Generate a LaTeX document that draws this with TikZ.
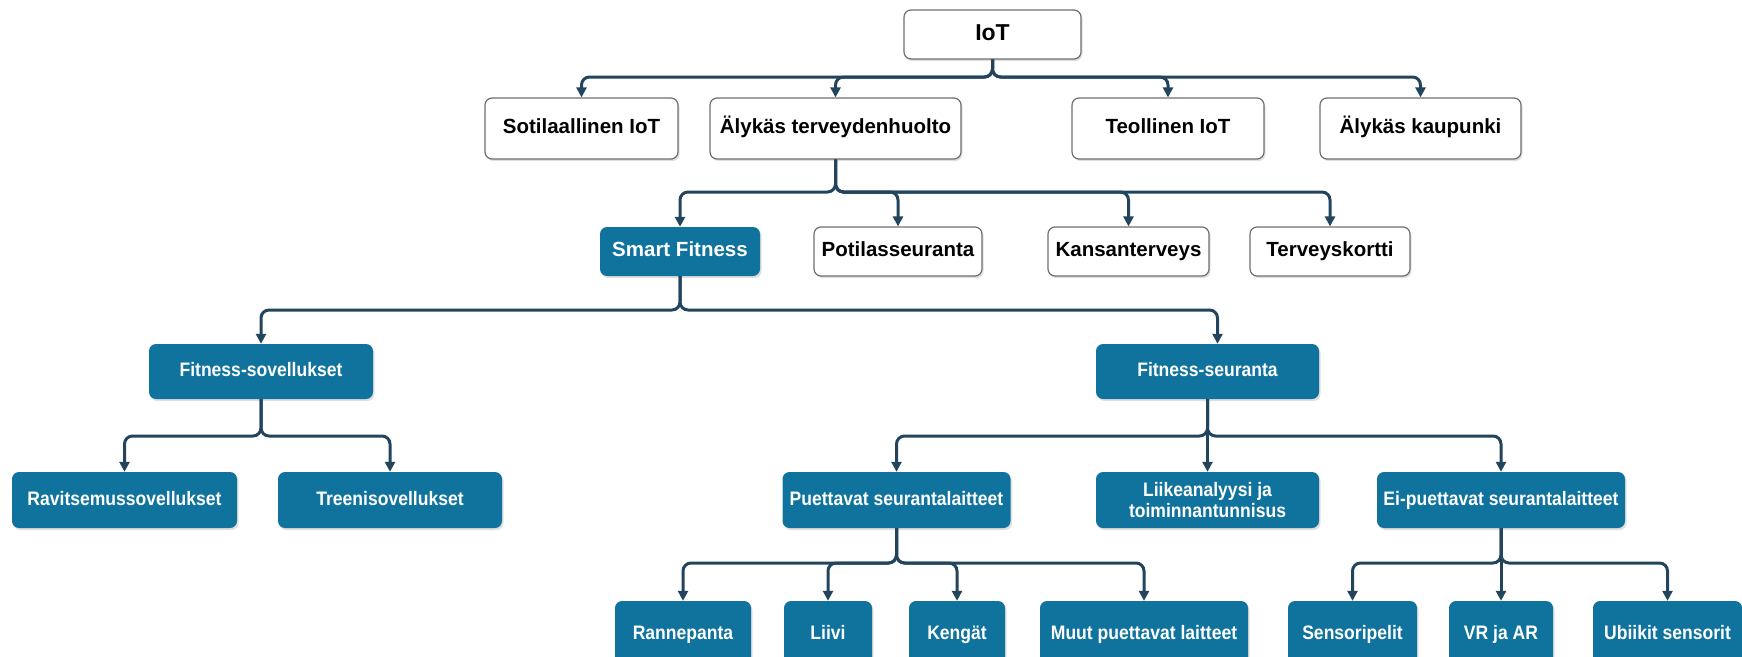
\documentclass[tikz,border=0pt]{standalone}
\usepackage{fontspec}
\setmainfont{Liberation Sans}
\newfontfamily\narrowsans[FakeStretch=0.9]{Liberation Sans}
\usetikzlibrary{arrows.meta,shadows}
\definecolor{fitblue}{HTML}{10739E}
\definecolor{linecol}{HTML}{23445D}
\definecolor{boxgray}{HTML}{6E6E6E}
\begin{document}
\begin{tikzpicture}[x=1pt,y=-1pt,
  base/.style={rectangle, rounded corners=7pt, inner sep=0pt, align=center, anchor=center,
    text height=14.5pt, text depth=4pt},
  sz/.style 2 args={minimum width=#1pt, minimum height=#2pt},
  wbox/.style={base, draw=boxgray, line width=1.2pt, fill=white, text=black,
    font=\fontsize{20.5}{24}\selectfont\bfseries,
    drop shadow={shadow xshift=1.5pt, shadow yshift=-2pt, opacity=0.25}},
  bbox/.style={base, fill=fitblue, text=white,
    font=\narrowsans\fontsize{19.5}{21}\selectfont\bfseries,
    drop shadow={shadow xshift=1.5pt, shadow yshift=-2pt, opacity=0.25}},
  conn/.style={draw=linecol, line width=3pt, rounded corners=8pt,
    -{Triangle[length=10pt,width=10pt]}},
]
\useasboundingbox (0,0) rectangle (1742,656);

% bus levels
\coordinate (b1) at (0,77);
\coordinate (b2) at (0,192);
\coordinate (b3) at (0,310);
\coordinate (b4) at (0,436);
\coordinate (b5) at (0,563);

% row 1
\node[wbox, sz={177}{49}, font=\fontsize{23}{26}\selectfont\bfseries, text height=16.5pt, text depth=4pt] (iot) at (992.5,34.5) {IoT};
% row 2
\node[wbox, sz={193}{61}] (sot) at (581.5,128.5) {Sotilaallinen IoT};
\node[wbox, sz={251}{61}] (aly) at (835.5,128.5) {Älykäs terveydenhuolto};
\node[wbox, sz={192}{61}] (teo) at (1168,128.5) {Teollinen IoT};
\node[wbox, sz={201}{61}] (kau) at (1420.5,128.5) {Älykäs kaupunki};
% row 3
\node[bbox, sz={160}{49}, font=\fontsize{20.5}{24}\selectfont\bfseries] (sf) at (680,251.5) {Smart Fitness};
\node[wbox, sz={168}{49}] (pot) at (898,251.5) {Potilasseuranta};
\node[wbox, sz={161}{49}] (kan) at (1128.5,251.5) {Kansanterveys};
\node[wbox, sz={160}{49}] (ter) at (1330,251.5) {Terveyskortti};
% row 4
\node[bbox, sz={224}{55}] (fso) at (261,371.5) {Fitness-sovellukset};
\node[bbox, sz={223}{55}] (fse) at (1207.5,371.5) {Fitness-seuranta};
% row 5
\node[bbox, sz={225}{56}] (rav) at (124.5,500) {Ravitsemussovellukset};
\node[bbox, sz={224}{56}] (tre) at (390,500) {Treenisovellukset};
\node[bbox, sz={228}{56}] (pue) at (896.5,500) {Puettavat seurantalaitteet};
\node[bbox, sz={223}{56}, text height={}, text depth={}] (lii) at (1207.5,500) {Liikeanalyysi ja\\toiminnantunnisus};
\node[bbox, sz={248}{56}] (eip) at (1501,500) {Ei-puettavat seurantalaitteet};
% row 6 (cut by the lower edge)
\node[bbox, sz={136}{66}] (ran) at (683,634) {Rannepanta};
\node[bbox, sz={88}{66}] (liv) at (828,634) {Liivi};
\node[bbox, sz={96}{66}] (ken) at (957,634) {Kengät};
\node[bbox, sz={208}{66}] (muu) at (1144,634) {Muut puettavat laitteet};
\node[bbox, sz={129}{66}] (sen) at (1352.5,634) {Sensoripelit};
\node[bbox, sz={104}{66}] (vr) at (1501,634) {VR ja AR};
\node[bbox, sz={149}{66}] (ubi) at (1667.5,634) {Ubiikit sensorit};

% connectors
\foreach \c in {sot,aly,teo,kau}
  \draw[conn] (iot.south) -- (iot.south |- b1) -| (\c.north);
\foreach \c in {sf,pot,kan,ter}
  \draw[conn] (aly.south) -- (aly.south |- b2) -| (\c.north);
\draw[conn] (sf.south) -- (sf.south |- b3) -| (fso.north);
\draw[conn] (sf.south) -- (sf.south |- b3) -| ([xshift=10pt]fse.north);
\foreach \c in {rav,tre}
  \draw[conn] (fso.south) -- (fso.south |- b4) -| (\c.north);
\draw[conn] (fse.south) -- (fse.south |- b4) -| (pue.north);
\draw[conn] (fse.south) -- (lii.north);
\draw[conn] (fse.south) -- (fse.south |- b4) -| (eip.north);
\foreach \c in {ran,liv,ken,muu}
  \draw[conn] (pue.south) -- (pue.south |- b5) -| (\c.north);
\draw[conn] (eip.south) -- (eip.south |- b5) -| (sen.north);
\draw[conn] (eip.south) -- (vr.north);
\draw[conn] (eip.south) -- (eip.south |- b5) -| (ubi.north);
\end{tikzpicture}
\end{document}
